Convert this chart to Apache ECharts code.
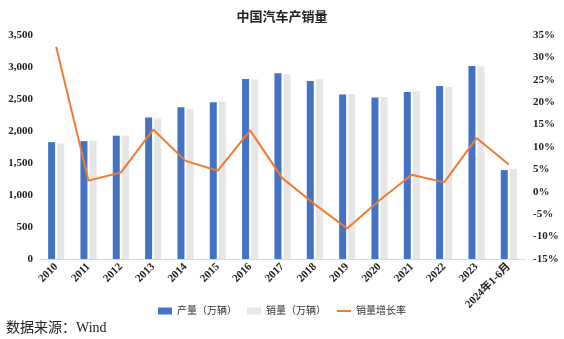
<!DOCTYPE html>
<html>
<head>
<meta charset="utf-8">
<script src="https://cdn.jsdelivr.net/npm/echarts@6/dist/echarts.min.js"></script>
<style>
html,body{margin:0;padding:0;background:#fff;}
#c{width:564px;height:339px;}
#src{position:absolute;left:6px;top:316px;font-family:"Liberation Serif","Noto Sans CJK SC",serif;font-size:14px;color:#222;}
</style>
</head>
<body>
<div id="c"></div>
<div id="src">数据来源：Wind</div>
<script>
const categories = ['2010','2011','2012','2013','2014','2015','2016','2017','2018','2019','2020','2021','2022','2023','2024年1-6月'];
const production = [1826,1842,1927,2212,2372,2450,2812,2902,2781,2572,2523,2608,2702,3016,1389];
const sales = [1806,1851,1931,2198,2349,2460,2803,2888,2808,2577,2531,2628,2686,3009,1405];
const salesGrowth = [32.4,2.5,4.3,13.9,6.9,4.7,13.7,3.0,-2.8,-8.2,-1.9,3.8,2.1,12.0,6.1];
const leftTicks = {min:0,max:3500,interval:500};
const rightTicks = {min:-15,max:35,interval:5};

const FONT = '"Liberation Serif","Noto Sans CJK SC",serif';
const chart = echarts.init(document.getElementById('c'));
chart.setOption({
  animation:false,
  title:{text:'中国汽车产销量',left:'center',top:6,textStyle:{fontFamily:FONT,fontSize:13,fontWeight:'bold',color:'#222'}},
  grid:{left:40,right:39,top:35,bottom:80},
  legend:{
    top:301,left:'center',itemGap:10,
    textStyle:{fontFamily:FONT,fontSize:10,color:'#333'},
    data:[
      {name:'产量（万辆）',icon:'rect'},
      {name:'销量（万辆）',icon:'rect'},
      {name:'销量增长率',itemStyle:{opacity:0}}
    ],
    itemWidth:14,itemHeight:7
  },
  xAxis:{
    type:'category',data:categories,
    axisLine:{lineStyle:{color:'#D9D9D9',width:1}},
    axisTick:{show:false},
    axisLabel:{interval:0,rotate:45,fontFamily:FONT,fontWeight:'bold',fontSize:11,color:'#222',margin:6}
  },
  yAxis:[
    {type:'value',min:leftTicks.min,max:leftTicks.max,interval:leftTicks.interval,
     splitLine:{show:false},axisLine:{show:false},axisTick:{show:false},
     axisLabel:{fontFamily:FONT,fontWeight:'bold',fontSize:11,color:'#222',margin:7,
       formatter:v=>v.toLocaleString('en-US')}},
    {type:'value',min:rightTicks.min,max:rightTicks.max,interval:rightTicks.interval,
     splitLine:{show:false},axisLine:{show:false},axisTick:{show:false},
     axisLabel:{fontFamily:FONT,fontWeight:'bold',fontSize:11,color:'#222',margin:8,formatter:'{value}%'}}
  ],
  series:[
    {name:'产量（万辆）',type:'bar',data:production,barWidth:7,barGap:'30%',itemStyle:{color:'#4472C4'}},
    {name:'销量（万辆）',type:'bar',data:sales,barWidth:7,itemStyle:{color:'#E7E6E6'}},
    {name:'销量增长率',type:'line',yAxisIndex:1,data:salesGrowth,symbol:'none',
     lineStyle:{color:'#ED7D31',width:2},itemStyle:{color:'#ED7D31'}}
  ]
});
</script>
</body>
</html>
